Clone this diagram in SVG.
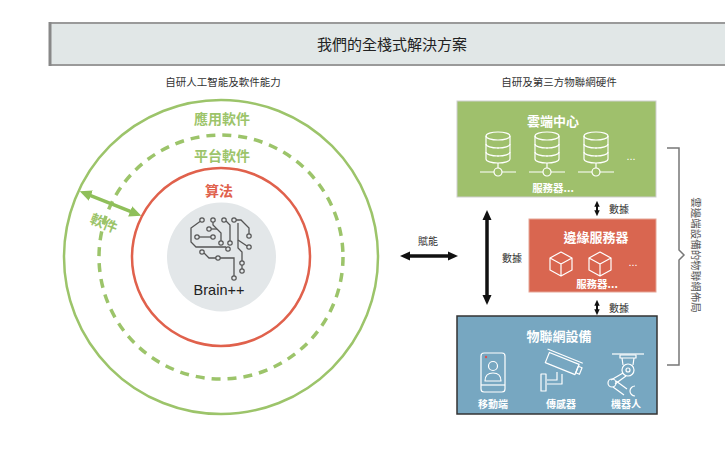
<svg xmlns="http://www.w3.org/2000/svg" width="725" height="453" viewBox="0 0 725 453">
<style>
.cjk{font-family:"Noto Sans CJK TC","Noto Sans CJK SC","Liberation Sans",sans-serif}
.lat{font-family:"Liberation Sans",Arial,sans-serif}
.t-title{font-size:15px;fill:#222}
.t-sub{font-size:10.5px;fill:#333}
.t-ring{font-size:14px;font-weight:700;fill:#9cc46a}
.wt{fill:#fff;font-weight:700}
.ic{fill:none;stroke:#fff;stroke-width:1.2;stroke-linejoin:round}
.br{fill:none;stroke:#555;stroke-width:1.3}
.brn{fill:#e3e7e9;stroke:#555;stroke-width:1.2}
.lbl{font-size:10px;fill:#333}
.blk{stroke:#111;fill:none}
</style>
<defs>
<marker id="ak" viewBox="0 0 10 10" refX="3" refY="5" markerWidth="10" markerHeight="10" markerUnits="userSpaceOnUse" orient="auto-start-reverse"><path d="M0,0.5 L10,5 L0,9.5 z" fill="#111"/></marker>
<marker id="aks" viewBox="0 0 10 10" refX="3" refY="5" markerWidth="6" markerHeight="6" markerUnits="userSpaceOnUse" orient="auto-start-reverse"><path d="M0,0.5 L10,5 L0,9.5 z" fill="#111"/></marker>
<marker id="ag" viewBox="0 0 10 10" refX="3" refY="5" markerWidth="12" markerHeight="12" markerUnits="userSpaceOnUse" orient="auto-start-reverse"><path d="M0,0.5 L10,5 L0,9.5 z" fill="#8fbf5a"/></marker>
<g id="db" class="ic">
<ellipse cx="0" cy="4" rx="12" ry="4"/>
<path d="M-12,4 V27 A12,4 0 0 0 12,27 V4"/>
<path d="M-12,12 A12,4 0 0 0 12,12"/>
<path d="M-12,20 A12,4 0 0 0 12,20"/>
<path d="M-1,16 H1 M-1,24 H1"/>
<path d="M0,31 V36 M-18,40 H-4 M4,40 H18"/>
<circle cx="0" cy="40" r="4"/>
</g>
<g id="cube" class="ic">
<path d="M0,-12 L11,-6 L11,6 L0,12 L-11,6 L-11,-6 Z M-11,-6 L0,0 L11,-6 M0,0 V12"/>
</g>
</defs>
<rect x="0" y="0" width="725" height="453" fill="#fff"/>

<g id="title">
<rect x="50" y="23" width="690" height="42" fill="#e1e7e7" stroke="#9a9a9a" stroke-width="2"/>
<line x1="50" y1="22" x2="50" y2="66" stroke="#888" stroke-width="3"/>
<text x="392" y="50" text-anchor="middle" class="cjk t-title">我們的全棧式解決方案</text>
</g>
<text x="223" y="86" text-anchor="middle" class="cjk t-sub">自研人工智能及軟件能力</text>
<text x="559" y="86" text-anchor="middle" class="cjk t-sub">自研及第三方物聯網硬件</text>

<g id="app-ring">
<circle cx="221" cy="257" r="157" fill="none" stroke="#9cc46a" stroke-width="2.5"/>
<text x="222" y="124" text-anchor="middle" class="cjk t-ring">應用軟件</text>
</g>
<g id="platform-ring">
<circle cx="221" cy="257" r="122" fill="none" stroke="#9cc46a" stroke-width="3.5" stroke-dasharray="9 7"/>
<text x="222" y="161" text-anchor="middle" class="cjk t-ring">平台軟件</text>
</g>
<g id="algo-ring">
<circle cx="221" cy="257" r="89" fill="none" stroke="#e0614c" stroke-width="2.5"/>
<text x="219" y="196" text-anchor="middle" class="cjk t-ring" style="fill:#e0614c">算法</text>
</g>
<g id="brain">
<circle cx="221.5" cy="257" r="54.5" fill="#e3e7e9"/>
<g class="br">
<path d="M200,221.5 L191,228 L191,242 L196,247 L226,247"/>
<path d="M213,222 L213,225 L221,233 L221,241"/>
<path d="M226,221 L230,225 L230,241"/>
<path d="M236,220 L241,220 L249,228 L249,234"/>
<path d="M199,237 L211,237"/>
<path d="M211,229 L217,229"/>
<path d="M238,223 L238,248 L242,252 L242,261"/>
<path d="M238,240 L247,246"/>
<path d="M242,265 L242,269"/>
<path d="M204,253 L209,258 L216,258"/>
<path d="M220,258 L234,258 L234,276"/>
</g>
<g class="brn">
<circle cx="202" cy="220" r="2.2"/><circle cx="213" cy="220" r="2.2"/><circle cx="224" cy="220" r="2.2"/><circle cx="234" cy="220" r="2.2"/>
<circle cx="209" cy="229" r="2.2"/><circle cx="249" cy="236" r="2.2"/><circle cx="197" cy="237" r="2.2"/><circle cx="213" cy="237" r="2.2"/>
<circle cx="221" cy="243" r="2.2"/><circle cx="230" cy="243" r="2.2"/><circle cx="249" cy="247" r="2.2"/><circle cx="202" cy="252" r="2.2"/>
<circle cx="218" cy="258" r="2.2"/><circle cx="228" cy="249" r="2.2"/><circle cx="242" cy="263" r="2.2"/><circle cx="242" cy="271" r="2.2"/>
<circle cx="234" cy="278" r="2.2"/>
</g>
<text x="219" y="295" text-anchor="middle" class="lat" font-size="14.5" fill="#222">Brain++</text>
</g>

<g id="cloud">
<rect x="457" y="101" width="199" height="96" fill="#9fc06c" stroke="#cfcfcf" stroke-width="1"/>
<text x="553" y="126" text-anchor="middle" class="cjk wt" font-size="13">雲端中心</text>
<use href="#db" x="498" y="132"/>
<use href="#db" x="547" y="132"/>
<use href="#db" x="596" y="132"/>
<text x="631" y="160" text-anchor="middle" class="lat" font-size="11" fill="#fff">...</text>
<text x="553" y="192" text-anchor="middle" class="cjk wt" font-size="10.5">服務器...</text>
</g>

<g id="edge">
<rect x="529" y="219" width="127" height="73" fill="#d96650" stroke="#e5a596" stroke-width="1"/>
<text x="596" y="242" text-anchor="middle" class="cjk wt" font-size="13">邊緣服務器</text>
<use href="#cube" x="561" y="264"/>
<use href="#cube" x="600" y="264"/>
<text x="633" y="266" text-anchor="middle" class="lat" font-size="11" fill="#fff">...</text>
<text x="597" y="288" text-anchor="middle" class="cjk wt" font-size="10.5">服務器...</text>
</g>

<g id="iot">
<rect x="457" y="316" width="200" height="98" fill="#77a7c1" stroke="#333" stroke-width="1.5"/>
<text x="559" y="341" text-anchor="middle" class="cjk wt" font-size="13">物聯網設備</text>
<g class="ic">
<rect x="481" y="353" width="24" height="39" rx="3"/>
<path d="M481,385 H505"/>
<circle cx="493" cy="366" r="4.5"/>
<path d="M485,381 Q485,373 493,373 Q501,373 501,381 Z"/>
</g>
<circle cx="486" cy="357" r="1.2" fill="#d9534f"/>
<g class="ic">
<g transform="rotate(22 562 364)">
<rect x="546" y="358" width="32" height="11"/>
<path d="M543,355.5 H581"/>
<rect x="578" y="360" width="4" height="7"/>
</g>
<path d="M557,372 V380 H547 M562,374 V384 H547"/>
<rect x="541" y="374" width="5" height="17"/>
</g>
<g class="ic">
<path d="M612,354 H644"/>
<rect x="620" y="355" width="16" height="3"/>
<path d="M622,358 L623,365 M634,358 L633,365"/>
<circle cx="628" cy="370" r="6"/>
<circle cx="628" cy="370" r="2"/>
<path d="M623,373 L611,380 M626,376 L615,384"/>
<circle cx="612" cy="383" r="4"/>
<path d="M613,387 L624,395 M616,381 L627,389"/>
<path d="M635,386 A5,5 0 1 0 635,396"/>
</g>
<text x="493" y="408" text-anchor="middle" class="cjk wt" font-size="10">移動端</text>
<text x="561" y="408" text-anchor="middle" class="cjk wt" font-size="10">傳感器</text>
<text x="626" y="408" text-anchor="middle" class="cjk wt" font-size="10">機器人</text>
</g>

<g id="connectors">
<line x1="87.5" y1="194.3" x2="133.5" y2="212.7" stroke="#8fbf5a" stroke-width="3.5" marker-start="url(#ag)" marker-end="url(#ag)"/>
<text transform="translate(102,228) rotate(21.6)" text-anchor="middle" class="cjk t-ring">軟件</text>
<line x1="407" y1="256" x2="451" y2="256" class="blk" stroke-width="3.5" marker-start="url(#ak)" marker-end="url(#ak)"/>
<text x="428" y="245" text-anchor="middle" class="cjk lbl">賦能</text>
<line x1="487" y1="217" x2="487" y2="298" class="blk" stroke-width="3.5" marker-start="url(#ak)" marker-end="url(#ak)"/>
<text x="512" y="262" text-anchor="middle" class="cjk lbl">數據</text>
<line x1="597" y1="205" x2="597" y2="212" class="blk" stroke-width="2" marker-start="url(#aks)" marker-end="url(#aks)"/>
<text x="609" y="213" class="cjk lbl">數據</text>
<line x1="597" y1="304" x2="597" y2="311" class="blk" stroke-width="2" marker-start="url(#aks)" marker-end="url(#aks)"/>
<text x="609" y="312" class="cjk lbl">數據</text>
<path d="M667,148 H679 V250 L684,255 L679,260 V365 H667" fill="none" stroke="#777" stroke-width="1.5"/>
<text transform="translate(696,255) rotate(90)" text-anchor="middle" dominant-baseline="central" class="cjk" font-size="10.5" fill="#555">雲邊端設備的物聯網佈局</text>
</g>
</svg>
